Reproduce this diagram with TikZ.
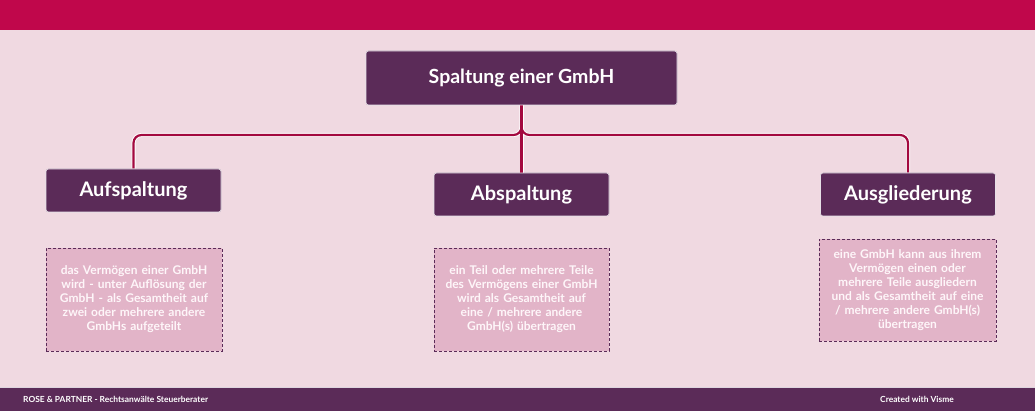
\documentclass[tikz,border=0pt]{standalone}
\usepackage{fontspec}
\setmainfont{Lato}
\usetikzlibrary{calc}
\definecolor{bgpink}{HTML}{F0D9E1}
\definecolor{topbar}{HTML}{C0074B}
\definecolor{plum}{HTML}{5B2B58}
\definecolor{conncol}{HTML}{A3093F}
\definecolor{descfill}{HTML}{E2B4C8}
\definecolor{desctext}{HTML}{FEF6F9}
\tikzset{
  headbox/.style={draw=white!85!plum, line width=0.6pt, fill=plum, rounded corners=2.5pt,
    text=white, font=\bfseries\fontsize{20}{22}\selectfont, inner sep=0pt},
  descbox/.style={draw=plum, dashed, dash pattern=on 3pt off 2pt, line width=0.8pt, fill=descfill,
    text=desctext, align=center, text width=172pt, inner sep=0pt,
    font=\bfseries\fontsize{12}{14}\selectfont},
  connwhite/.style={draw=white, line width=4pt, rounded corners=8pt},
  conn/.style={draw=conncol, line width=2.2pt, rounded corners=8pt},
  foot/.style={text=white, font=\bfseries\fontsize{8.4}{10}\selectfont, inner sep=0pt}
}
\begin{document}
\begin{tikzpicture}[x=1pt,y=-1pt]
\useasboundingbox (0,0) rectangle (1035,411);
\fill[bgpink] (0,0) rectangle (1035,411);
\fill[topbar] (0,0) rectangle (1035,30);
\fill[plum] (0,388) rectangle (1035,411);
\draw[white!80!plum, line width=0.6pt] (0,387.7) -- (1035,387.7);

\node[headbox, minimum width=311pt, minimum height=54pt, font=\bfseries\fontsize{19.5}{22}\selectfont] (main) at (521.5,78) {Spaltung einer GmbH};
\node[headbox, minimum width=175pt, minimum height=43pt] (auf) at (133.5,190.5) {Aufspaltung};
\node[headbox, minimum width=175pt, minimum height=43pt] (ab) at (521.5,194.5) {Abspaltung};
\node[headbox, minimum width=175pt, minimum height=43pt] (aus) at (908,194.5) {Ausgliederung};

\coordinate (j) at (521.5,135);
\draw[connwhite] (auf.north) |- (j) -- (main.south);
\draw[connwhite] (aus.north) |- (j) -- (main.south);
\draw[connwhite] (main.south) -- (ab.north);
\draw[conn] (auf.north) |- (j) -- (main.south);
\draw[conn] (aus.north) |- (j) -- (main.south);
\draw[conn] (main.south) -- (ab.north);
% redraw boxes on top of connector ends
\node[headbox, minimum width=311pt, minimum height=54pt, font=\bfseries\fontsize{19.5}{22}\selectfont] at (main) {Spaltung einer GmbH};
\node[headbox, minimum width=175pt, minimum height=43pt] at (auf) {Aufspaltung};
\node[headbox, minimum width=175pt, minimum height=43pt] at (ab) {Abspaltung};
\node[headbox, minimum width=175pt, minimum height=43pt] at (aus) {Ausgliederung};

\node[descbox, minimum width=176pt, minimum height=103pt] (d1) at (134,299.5)
  {das Vermögen einer GmbH\\wird - unter Auflösung der\\GmbH - als Gesamtheit auf\\zwei oder mehrere andere\\GmbHs aufgeteilt};
\node[descbox, minimum width=175pt, minimum height=103pt] (d2) at (521.5,299.5)
  {ein Teil oder mehrere Teile\\des Vermögens einer GmbH\\wird als Gesamtheit auf\\eine / mehrere andere\\GmbH(s) übertragen};
\node[descbox, minimum width=177pt, minimum height=102pt] (d3) at (907.5,290)
  {eine GmbH kann aus ihrem\\Vermögen einen oder\\mehrere Teile ausgliedern\\und als Gesamtheit auf eine\\/ mehrere andere GmbH(s)\\übertragen};

\node[foot, anchor=west] (f1) at (23,399.5) {ROSE \& PARTNER - Rechtsanwälte Steuerberater};
\node[foot] (f2) at (917,399.5) {Created with Visme};
\end{tikzpicture}
\end{document}
